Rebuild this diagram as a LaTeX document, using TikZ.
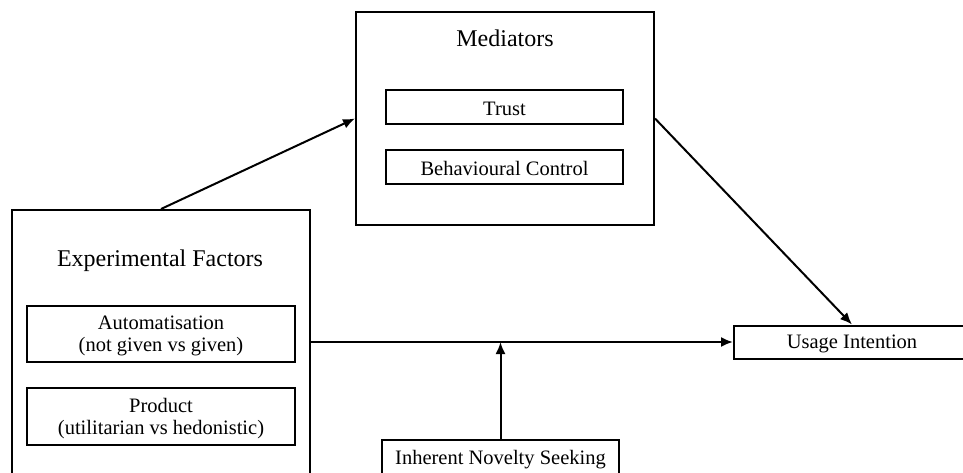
\documentclass[tikz,border=0pt]{standalone}
\usepackage{fontspec}
\setmainfont{Liberation Serif}
\usetikzlibrary{arrows.meta}
\begin{document}
\begin{tikzpicture}[x=1pt,y=-1pt,
  box/.style={draw,line width=2pt,inner sep=0pt},
  title/.style={font=\fontsize{24}{28}\selectfont},
  label/.style={font=\fontsize{20.5}{22.5}\selectfont,align=center},
  link/.style={line width=2pt,-{Latex[length=12pt,width=10pt]}}]
  \useasboundingbox (0,0) rectangle (963,472);
  % outer group boxes
  \node[box,minimum width=298pt,minimum height=213pt] (med) at (505,118.5) {};
  \node[title] (medtitle) at (505,38) {Mediators};
  \node[box,minimum width=298pt,minimum height=264pt] (exp) at (161,342) {};
  \node[title] (exptitle) at (160,261) {Experimental Factors};
  % inner boxes
  \node[box,minimum width=237pt,minimum height=34pt] (trust) at (504.5,107) {};
  \node[label] at (504.5,108.5) {Trust};
  \node[box,minimum width=237pt,minimum height=34pt] (bc) at (504.5,167) {};
  \node[label] at (504.5,168.5) {Behavioural Control};
  \node[box,minimum width=268pt,minimum height=56pt] (auto) at (161,334) {};
  \node[label] at (161,336) {Automatisation\\(not given vs given)};
  \node[box,minimum width=268pt,minimum height=57pt] (prod) at (161,416.5) {};
  \node[label] at (161,418.5) {Product\\(utilitarian vs hedonistic)};
  % outcome and moderator
  \node[box,minimum width=236pt,minimum height=33pt] (ui) at (852,342) {};
  \node[label] at (852,344) {Usage Intention};
  \node[box,minimum width=237pt,minimum height=40pt] (nov) at (500.5,460) {};
  \node[label] at (500.5,460) {Inherent Novelty Seeking};
  \coordinate (mid) at (nov.north |- exp.east);
  % connectors
  \draw[link] (exp.north) -- (med.west);
  \draw[link] (med.east) -- (ui.north);
  \draw[link] (exp.east) -- (ui.west);
  \draw[link] (nov.north) -- (mid);
\end{tikzpicture}
\end{document}
